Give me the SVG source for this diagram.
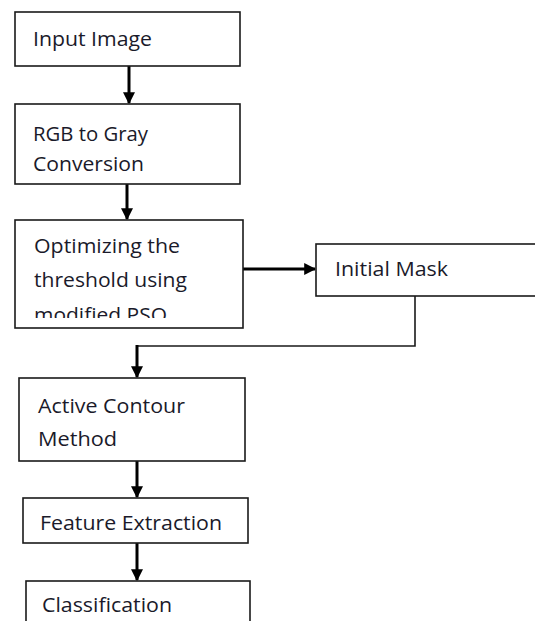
<svg xmlns="http://www.w3.org/2000/svg" width="535" height="621" viewBox="0 0 535 621">
  <style>
    .box { fill: #ffffff; stroke: #1a1a1a; stroke-width: 1.6; }
    .lbl { font-family: "Open Sans", "Liberation Sans", sans-serif; font-size: 20.5px; fill: #1a1a2a; }
    .flow { fill: none; stroke: #000000; stroke-width: 3; }
    .thin { fill: none; stroke: #1a1a1a; stroke-width: 1.6; }
  </style>
  <defs>
    <marker id="head" viewBox="0 0 10 10" refX="9" refY="5" markerWidth="12" markerHeight="12" markerUnits="userSpaceOnUse" orient="auto">
      <path d="M0,0 L10,5 L0,10 Z" fill="#000000"/>
    </marker>
    <clipPath id="optClip">
      <rect x="15" y="220" width="228" height="98"/>
    </clipPath>
  </defs>
  <rect width="535" height="621" fill="#ffffff"/>

  <!-- connectors -->
  <g id="connectors">
    <line class="flow" x1="129" y1="66" x2="129" y2="103" marker-end="url(#head)"/>
    <line class="flow" x1="127" y1="184" x2="127" y2="219" marker-end="url(#head)"/>
    <line class="flow" x1="243" y1="269" x2="315" y2="269" marker-end="url(#head)"/>
    <polyline class="thin" points="415,296 415,346 137,346"/>
    <line class="flow" x1="137" y1="345" x2="137" y2="377" marker-end="url(#head)"/>
    <line class="flow" x1="137" y1="461" x2="137" y2="497" marker-end="url(#head)"/>
    <line class="flow" x1="137" y1="543" x2="137" y2="580" marker-end="url(#head)"/>
  </g>

  <g id="input-image">
    <rect class="box" x="15" y="12" width="225" height="54"/>
    <text class="lbl" x="33" y="46" textLength="119" lengthAdjust="spacingAndGlyphs">Input Image</text>
  </g>

  <g id="rgb-to-gray">
    <rect class="box" x="15" y="104" width="225" height="80"/>
    <text class="lbl" x="33" y="141" textLength="115" lengthAdjust="spacingAndGlyphs">RGB to Gray</text>
    <text class="lbl" x="33" y="171" textLength="111" lengthAdjust="spacingAndGlyphs">Conversion</text>
  </g>

  <g id="optimize-threshold">
    <rect class="box" x="15" y="220" width="228" height="108"/>
    <g clip-path="url(#optClip)">
      <text class="lbl" x="34" y="253" textLength="146" lengthAdjust="spacingAndGlyphs">Optimizing the</text>
      <text class="lbl" x="34" y="287" textLength="153" lengthAdjust="spacingAndGlyphs">threshold using</text>
      <text class="lbl" x="34" y="322" textLength="133" lengthAdjust="spacingAndGlyphs">modified PSO</text>
    </g>
  </g>

  <g id="initial-mask">
    <rect class="box" x="316" y="244" width="230" height="52"/>
    <text class="lbl" x="335" y="276" textLength="113" lengthAdjust="spacingAndGlyphs">Initial Mask</text>
  </g>

  <g id="active-contour">
    <rect class="box" x="19" y="378" width="226" height="83"/>
    <text class="lbl" x="38" y="413" textLength="147" lengthAdjust="spacingAndGlyphs">Active Contour</text>
    <text class="lbl" x="38" y="446" textLength="79" lengthAdjust="spacingAndGlyphs">Method</text>
  </g>

  <g id="feature-extraction">
    <rect class="box" x="23" y="498" width="225" height="45"/>
    <text class="lbl" x="40" y="530" textLength="182" lengthAdjust="spacingAndGlyphs">Feature Extraction</text>
  </g>

  <g id="classification">
    <rect class="box" x="26" y="581" width="224" height="60"/>
    <text class="lbl" x="42" y="612" textLength="130" lengthAdjust="spacingAndGlyphs">Classification</text>
  </g>
</svg>
